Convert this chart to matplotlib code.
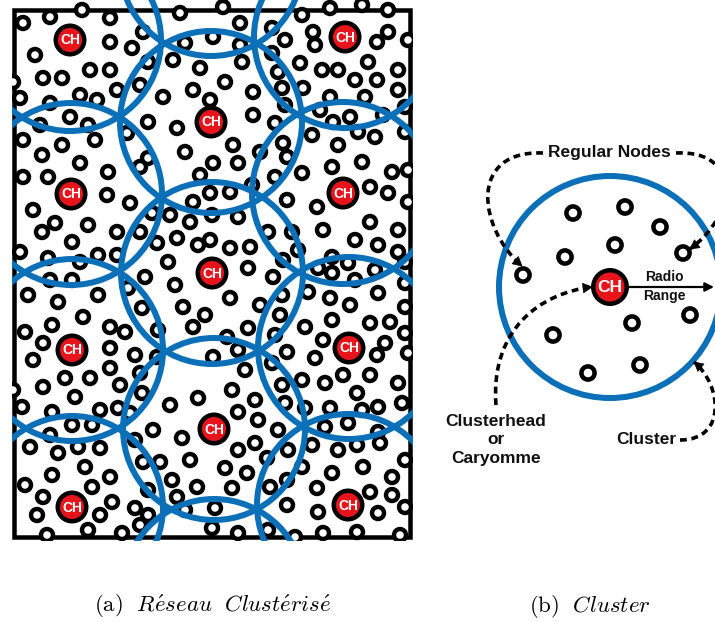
import matplotlib
matplotlib.use('Agg')
import numpy as np
import matplotlib.pyplot as plt
from matplotlib.patches import Circle, Rectangle, PathPatch, Polygon
from matplotlib.path import Path

plt.rcParams['mathtext.fontset'] = 'cm'
SANS = ['Liberation Sans', 'DejaVu Sans']

# ---------------- data (pixel coordinates of the diagram) ----------------
# (a) clustered network: cluster-heads
ch_x = [70, 345, 211, 71, 343, 212, 72, 349, 214, 72, 348]
ch_y = [40, 37, 122, 194, 193, 273, 350, 348, 429, 507, 505]
# cluster circles whose heads lie outside the picture
extra_cluster_x = [211, 214]
extra_cluster_y = [-35, 590]

# (a) regular nodes
nodes_a = [
    (23, 23), (50, 17), (82, 10), (110, 18), (143, 32), (180, 13), (185, 43), (110, 42), (132, 48),
    (35, 55), (148, 62), (173, 60), (200, 68), (90, 70), (110, 70), (43, 78), (62, 78), (140, 85),
    (193, 90), (13, 82), (80, 95), (97, 100), (117, 90), (163, 97), (210, 100), (20, 98), (50, 103),
    (70, 117), (88, 125), (40, 125), (148, 122), (177, 128), (127, 133), (23, 140), (62, 145),
    (95, 140), (42, 155), (148, 158), (185, 152), (80, 163), (108, 172), (140, 167), (213, 163),
    (23, 177), (48, 177), (200, 175),
    (223, 7), (240, 23), (272, 28), (302, 15), (330, 8), (362, 5), (388, 10), (313, 32), (315, 45),
    (285, 40), (213, 37), (240, 45), (242, 62), (272, 53), (377, 42), (388, 32), (408, 40), (300, 63),
    (278, 72), (322, 70), (338, 70), (355, 80), (368, 62), (377, 80), (398, 70), (225, 82), (253, 92),
    (282, 88), (303, 88), (330, 97), (365, 97), (398, 90), (253, 115), (275, 123), (285, 105),
    (320, 110), (350, 117), (383, 115), (405, 107), (333, 122), (358, 132), (405, 132), (233, 145),
    (238, 163), (260, 152), (283, 143), (287, 157), (312, 135), (338, 145), (375, 137), (362, 162),
    (332, 167), (302, 173), (392, 172), (408, 170), (275, 177),
    (107, 195), (130, 203), (33, 210), (55, 223), (42, 232), (88, 225), (117, 232), (140, 232),
    (72, 242), (20, 252), (48, 258), (80, 262), (98, 255), (117, 255), (157, 243), (168, 262),
    (177, 238), (190, 222), (198, 245), (210, 240), (170, 215), (152, 213), (193, 202), (210, 193),
    (50, 280), (72, 280), (28, 295), (58, 302), (98, 295), (128, 288), (145, 277), (175, 285),
    (83, 317), (52, 325), (25, 332), (110, 327), (125, 332), (142, 308), (158, 330), (183, 307),
    (205, 315), (193, 327), (43, 343), (110, 348), (135, 355), (33, 360), (157, 357), (213, 357),
    (230, 192), (252, 185), (287, 200), (317, 207), (370, 187), (388, 193), (408, 202), (212, 215),
    (238, 217), (268, 232), (292, 232), (323, 230), (370, 222), (398, 230), (355, 240), (378, 245),
    (230, 248), (250, 247), (298, 250), (283, 260), (332, 257), (348, 263), (398, 252), (405, 262),
    (248, 268), (273, 277), (318, 268), (332, 273), (355, 280), (375, 270), (405, 283), (230, 298),
    (260, 305), (282, 295), (308, 292), (330, 298), (378, 293), (350, 305), (405, 307), (280, 315),
    (248, 328), (305, 327), (332, 320), (370, 323), (390, 322), (227, 337), (275, 335), (323, 340),
    (385, 343), (405, 333), (238, 350), (287, 352), (315, 358), (377, 355), (408, 353),
    (65, 378), (43, 387), (90, 378), (110, 368), (120, 385), (140, 373), (13, 390), (75, 397),
    (142, 393), (22, 407), (52, 412), (100, 410), (118, 408), (130, 413), (170, 405), (198, 398),
    (72, 425), (92, 425), (50, 435), (78, 447), (100, 448), (30, 447), (58, 453), (153, 430),
    (182, 438), (135, 440), (190, 460), (85, 467), (143, 462), (160, 462), (52, 475), (110, 477),
    (25, 485), (92, 487), (148, 490), (172, 480), (197, 487), (43, 497), (112, 502), (177, 497),
    (37, 515), (100, 515), (135, 508), (148, 515), (185, 510), (140, 525), (88, 530), (122, 533),
    (47, 535),
    (245, 370), (272, 363), (343, 375), (370, 375), (325, 383), (398, 383), (232, 390), (255, 400),
    (282, 385), (302, 380), (357, 393), (378, 407), (402, 403), (285, 403), (305, 408), (238, 412),
    (258, 420), (330, 408), (362, 410), (278, 430), (325, 427), (348, 423), (378, 432), (255, 443),
    (238, 450), (288, 450), (312, 445), (338, 450), (357, 445), (380, 443), (225, 468), (247, 473),
    (267, 458), (287, 480), (302, 467), (332, 473), (363, 467), (392, 477), (405, 460), (232, 488),
    (270, 487), (317, 488), (370, 492), (392, 495), (405, 507), (215, 508), (287, 505), (318, 512),
    (378, 513), (212, 528), (238, 533), (268, 530), (295, 537), (323, 533), (357, 532), (400, 535),
]

# (b) single cluster
cluster_b_x, cluster_b_y = 610, 287
nodes_b = [(573, 213), (625, 207), (660, 227), (615, 245), (565, 257), (683, 253),
           (523, 275), (690, 315), (632, 323), (553, 335), (640, 365), (588, 373)]

labels_b = ['Regular Nodes', 'Clusterhead\nor\nCaryomme', 'Cluster']
radio_label = ['Radio', 'Range']
captions = [r'$\mathrm{(a)}\ \ R\acute{e}seau\ \ Clust\acute{e}ris\acute{e}$',
            r'$\mathrm{(b)}\ \ Cluster$']

# ---------------- drawing ----------------
W, H = 715, 622
PX = 0.72  # points per pixel at 100 dpi
BLUE = '#0b70b8'
RED = '#e8141b'
INK = '#111111'

fig = plt.figure(figsize=(W / 100, H / 100), dpi=100)
ax = fig.add_axes([0, 0, 1, 1])
ax.set_xlim(0, W)
ax.set_ylim(H, 0)
ax.set_aspect('equal')
ax.axis('off')

clip_a = Rectangle((12, 0), 401, 541, transform=ax.transData)

# border
border = Rectangle((14, 10), 396, 527, fill=False, ec='black', lw=4.5 * PX, zorder=1)
ax.add_patch(border)
border.set_clip_path(clip_a)

# regular nodes (a)
for (x, y) in nodes_a:
    c = Circle((x, y), 6.0, fc='white', ec='black', lw=4.4 * PX, zorder=2)
    ax.add_patch(c)
    c.set_clip_path(clip_a)

# cluster circles (a)
for (x, y) in list(zip(ch_x, ch_y)) + list(zip(extra_cluster_x, extra_cluster_y)):
    c = Circle((x, y), 91, fill=False, ec=BLUE, lw=6 * PX, zorder=3)
    ax.add_patch(c)
    c.set_clip_path(clip_a)


def draw_ch(x, y, r_out, r_in, fs):
    ax.add_patch(Circle((x, y), r_out, fc='black', ec='none', zorder=4))
    ax.add_patch(Circle((x, y), r_in, fc=RED, ec='none', zorder=5))
    ax.text(x, y + 0.5, 'CH', color='white', fontsize=fs, fontweight='bold',
            family=SANS, ha='center', va='center', zorder=6)


for x, y in zip(ch_x, ch_y):
    draw_ch(x, y, 16.5, 12, 10)

# (b)
ax.add_patch(Circle((cluster_b_x, cluster_b_y), 111, fill=False, ec=BLUE, lw=6 * PX, zorder=3))
for (x, y) in nodes_b:
    ax.add_patch(Circle((x, y), 6.6, fc='white', ec='black', lw=4.5 * PX, zorder=2))
draw_ch(cluster_b_x, cluster_b_y, 19, 14.5, 12.5)

ax.annotate('', xy=(714, 287), xytext=(628, 287),
            arrowprops=dict(arrowstyle='-|>', lw=2.2 * PX, color='black',
                            mutation_scale=13, shrinkA=0, shrinkB=0), zorder=6)
ax.text(664, 277, radio_label[0], fontsize=10, fontweight='bold', family=SANS,
        ha='center', va='center', color=INK)
ax.text(664, 296, radio_label[1], fontsize=10, fontweight='bold', family=SANS,
        ha='center', va='center', color=INK)

ax.text(609, 153, labels_b[0], fontsize=12.5, fontweight='bold', family=SANS,
        ha='center', va='center', color=INK)
ax.text(496, 440, labels_b[1], fontsize=12.5, fontweight='bold', family=SANS,
        ha='center', va='center', color=INK, linespacing=1.25)
ax.text(646, 440, labels_b[2], fontsize=12.5, fontweight='bold', family=SANS,
        ha='center', va='center', color=INK)


def dashed_arrow(p0, c1, c2, p3, head_len=9, head_w=4.8):
    path = Path([p0, c1, c2, p3], [Path.MOVETO, Path.CURVE4, Path.CURVE4, Path.CURVE4])
    ax.add_patch(PathPatch(path, fill=False, ec='black', lw=3.6 * PX,
                           linestyle=(0, (1.9, 1.3)), capstyle='butt', zorder=7))
    tip = np.array(p3, float)
    d = tip - np.array(c2, float)
    d /= np.hypot(*d)
    n = np.array([-d[1], d[0]])
    base = tip - d * head_len
    ax.add_patch(Polygon([tip, base + n * head_w, base - n * head_w], closed=True,
                         fc='black', ec='black', lw=0.5, zorder=8))


dashed_arrow((543, 153), (468, 150), (478, 228), (522, 266))
dashed_arrow((676, 153), (742, 150), (737, 215), (690, 249))
dashed_arrow((496, 405), (490, 330), (540, 293), (592, 287))
dashed_arrow((680, 440), (727, 440), (722, 385), (694, 362))

# captions
ax.text(213, 606, captions[0], fontsize=16.5, ha='center', va='center')
ax.text(590, 606, captions[1], fontsize=16.5, ha='center', va='center')

fig.savefig('out.png', dpi=100, facecolor='white')
